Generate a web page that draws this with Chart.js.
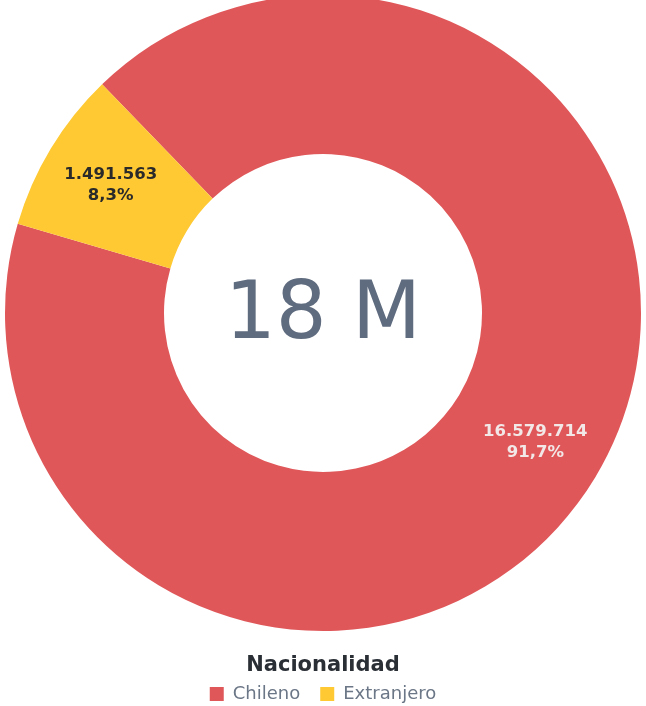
<!DOCTYPE html>
<html>
<head>
<meta charset="utf-8">
<script src="https://cdn.jsdelivr.net/npm/chart.js@4.4.1/dist/chart.umd.min.js"></script>
<style>
  html, body { margin: 0; padding: 0; background: #fff; }
  #wrap { position: relative; width: 646px; height: 706px; overflow: hidden; }
  #wrap canvas { position: absolute; left: 0; top: -5px; }
</style>
</head>
<body>
<div id="wrap"><canvas id="grafico" width="646" height="718"></canvas></div>
<script>
const categorias = ["Chileno", "Extranjero"];
const valores = [16579714, 1491563];
const colores = ["#e05759", "#ffc933"];
const coloresTexto = ["#f2e8e8", "#2a2a2a"];
const textoCentro = "18 M";
const tituloLeyenda = "Nacionalidad";

const fuente = "DejaVu Sans, Verdana, sans-serif";

function formatoMiles(n) {
  return String(n).replace(/\B(?=(\d{3})+(?!\d))/g, ".");
}

const total = valores.reduce((a, b) => a + b, 0);

const etiquetas = {
  id: "etiquetas",
  afterDatasetsDraw(chart) {
    const ctx = chart.ctx;
    const meta = chart.getDatasetMeta(0);
    ctx.save();
    ctx.textAlign = "center";
    ctx.textBaseline = "middle";
    ctx.font = "bold 16.5px " + fuente;
    meta.data.forEach((arc, i) => {
      const { x, y, startAngle, endAngle, innerRadius, outerRadius } =
        arc.getProps(["x", "y", "startAngle", "endAngle", "innerRadius", "outerRadius"]);
      const mid = (startAngle + endAngle) / 2;
      const r = innerRadius + 0.56 * (outerRadius - innerRadius);
      const px = x + Math.cos(mid) * r;
      const py = y + Math.sin(mid) * r;
      const pct = (valores[i] / total * 100).toFixed(1).replace(".", ",") + "%";
      ctx.fillStyle = coloresTexto[i];
      ctx.fillText(formatoMiles(valores[i]), px, py - 10);
      ctx.fillText(pct, px, py + 11);
    });
    // texto central
    const a = meta.data[0];
    ctx.font = "80px " + fuente;
    ctx.fillStyle = "#5f6b7e";
    ctx.textBaseline = "alphabetic";
    ctx.fillText(textoCentro, a.x, a.y + 25);
    ctx.restore();
  }
};

const config = {
  type: "doughnut",
  data: {
    labels: categorias,
    datasets: [{
      data: valores,
      backgroundColor: colores,
      borderWidth: 0
    }]
  },
  options: {
    responsive: false,
    animation: false,
    rotation: -44,
    cutout: "50%",
    layout: { padding: 0 },
    plugins: {
      tooltip: { enabled: false },
      legend: {
        position: "bottom",
        title: {
          display: true,
          text: tituloLeyenda,
          color: "#2a2f36",
          font: { family: fuente, size: 21, weight: "bold" },
          padding: { top: 24.4, bottom: -15.6 }
        },
        labels: {
          boxWidth: 14,
          boxHeight: 14,
          padding: 20,
          color: "#6b7686",
          font: { family: fuente, size: 18 }
        }
      }
    }
  },
  plugins: [etiquetas]
};

const ctx = document.getElementById("grafico").getContext("2d");
const chart = new Chart(ctx, config);
</script>
</body>
</html>
